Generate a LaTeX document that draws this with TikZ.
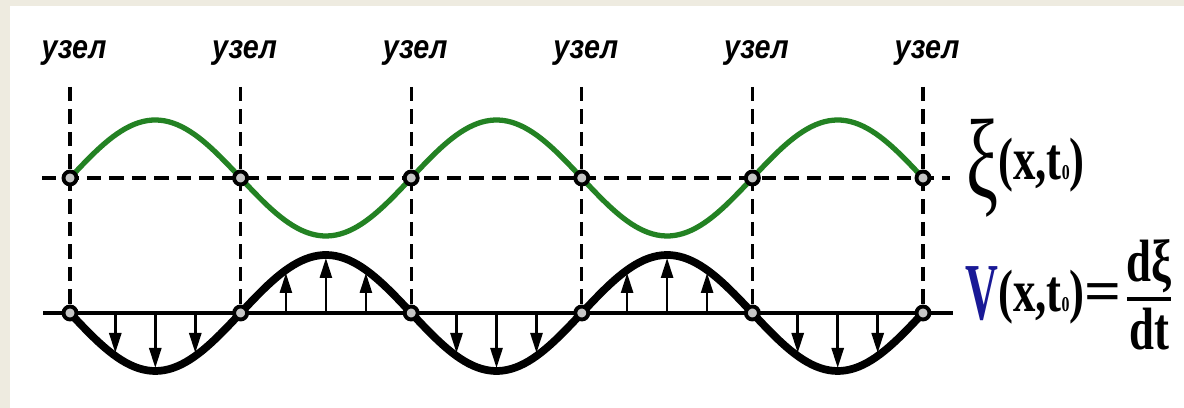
\documentclass[tikz,border=0pt]{standalone}
\usepackage{fontspec}
\setmainfont{Liberation Serif}
\newfontfamily\uzelfont[FakeStretch=0.86]{Liberation Sans}
\newfontfamily\lblfont[FakeStretch=0.75]{Liberation Serif}
\usetikzlibrary{arrows.meta, positioning, calc}
\definecolor{paper}{RGB}{238,235,224}
\definecolor{wavegreen}{RGB}{35,130,35}
\definecolor{vblue}{RGB}{25,25,150}

\begin{document}
\begin{tikzpicture}[
    x=0.02cm, y=0.02cm,
    knot/.style={circle, draw, line width=2.2pt, fill=gray!45, inner sep=0pt, minimum size=2.6mm},
    uzel/.style={font=\uzelfont\fontsize{19}{19}\selectfont\bfseries\itshape, inner sep=0pt, anchor=base},
    axisline/.style={line width=2.4pt},
    dashline/.style={line width=2.2pt, dash pattern=on 2.9mm off 1.6mm},
    velo/.style={line width=1.5pt, -{Triangle[length=4mm, width=2.4mm]}},
    lbl/.style={font=\lblfont\bfseries, inner sep=0pt}
  ]
  \fill[paper] (0,0) rectangle (1184,408);
  \fill[white] (10,0) rectangle (1184,402);

  % node positions and labels
  \foreach \i in {1,...,6} {
    \pgfmathsetmacro\nx{70+170.6*(\i-1)}
    \coordinate (top\i) at (\nx,321);
    \coordinate (bot\i) at (\nx,95);
    \node[uzel] (u\i) at (\nx+4,349) {узел};
  }
  \foreach \i in {1,...,6}
    \draw[dashline, line width=1.8pt] (top\i) -- (bot\i);

  % axes
  \draw[dashline] (42,230) -- (950,230);
  \draw[axisline] (43,95) -- (953,95);

  % waves
  \draw[wavegreen, line width=3pt] plot[domain=70:923, samples=200]
    (\x, {230+58*sin((\x-70)/170.6*180)});
  \draw[line width=4.4pt] plot[domain=70:923, samples=200]
    (\x, {95-58*sin((\x-70)/170.6*180)});

  % velocity arrows
  \foreach \k in {0,...,4} {
    \pgfmathsetmacro\cx{70+170.6*(\k+0.5)}
    \pgfmathsetmacro\sg{ifthenelse(mod(\k,2)==0,-1,1)}
    \foreach \d/\h in {-40/43, 0/58, 40/43}
      \draw[velo] (\cx+\d,95) -- (\cx+\d, {95+\sg*(\h-3)});
  }

  % knots
  \foreach \i in {1,...,6} {
    \node[knot] (a\i) at (top\i |- 0,230) {};
    \node[knot] (b\i) at (bot\i) {};
  }

  % right labels
  \node[lbl, anchor=base west] (xilbl) at (966,228)
    {\raisebox{-10pt}{\mdseries\fontsize{64}{64}\selectfont\scalebox{0.85}[1]{ξ}}\fontsize{34}{34}\selectfont(x,t{\fontsize{12}{12}\selectfont 0})};
  \node[lbl, anchor=base west] (vlbl) at (965,96)
    {\raisebox{-4.5pt}{\color{vblue}\fontsize{46}{46}\selectfont\scalebox{0.75}[1]{V}}\fontsize{34}{34}\selectfont(x,t{\fontsize{12}{12}\selectfont 0})\scalebox{1.45}[1]{=}};
  \node[lbl, anchor=base] (num) at (1149,126) {\fontsize{34}{34}\selectfont dξ};
  \node[lbl, anchor=base] (den) at (1149,58) {\fontsize{34}{34}\selectfont dt};
  \draw[line width=2.4pt] ([xshift=-1pt]den.west |- 0,109) -- ([xshift=1pt]den.east |- 0,109);
\end{tikzpicture}
\end{document}
